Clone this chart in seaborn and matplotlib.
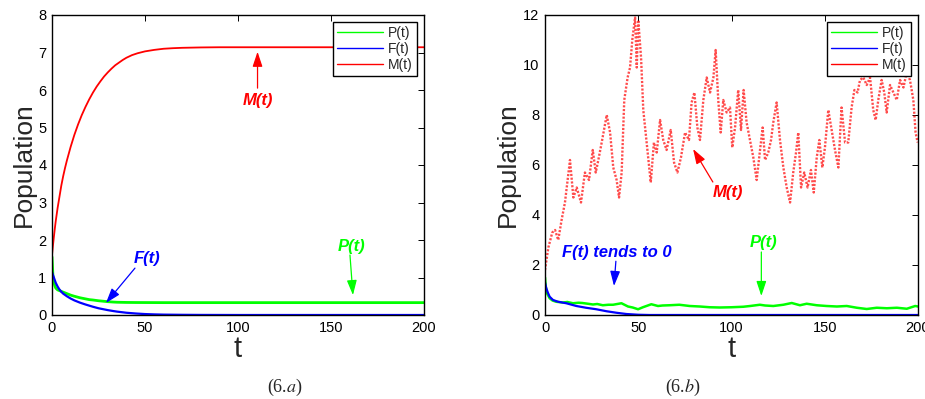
import matplotlib
matplotlib.use("Agg")
import matplotlib.pyplot as plt
import seaborn as sns
import pandas as pd

# ---------------- data: panel (6.a) deterministic ----------------
t_a = [0, 0.5, 1, 1.5, 2, 3, 4, 5, 6, 8, 10, 12, 15, 18, 20, 22, 25, 28, 30,
       33, 35, 38, 40, 45, 50, 55, 60, 70, 80, 100, 120, 150, 200]
P_a = [1.55, 1.05, 0.88, 0.78, 0.72, 0.67, 0.65, 0.63, 0.61, 0.57, 0.53, 0.50,
       0.46, 0.43, 0.41, 0.40, 0.38, 0.365, 0.355, 0.345, 0.34, 0.337, 0.335,
       0.333, 0.332, 0.331, 0.33, 0.33, 0.33, 0.33, 0.33, 0.33, 0.33]
F_a = [1.15, 1.07, 1.0, 0.93, 0.86, 0.76, 0.68, 0.62, 0.57, 0.50, 0.44, 0.39,
       0.33, 0.28, 0.25, 0.22, 0.18, 0.15, 0.13, 0.105, 0.09, 0.072, 0.06,
       0.04, 0.025, 0.016, 0.01, 0.005, 0.002, 0.0, 0.0, 0.0, 0.0]
t_am = [0, 0.5, 1, 1.5, 2, 3, 4, 5, 6, 7, 8, 9, 10, 12, 14, 16, 18, 20, 22,
        24, 26, 28, 30, 32, 34, 36, 38, 40, 43, 46, 50, 55, 60, 65, 70, 80,
        90, 100, 200]
M_a = [1.6, 1.85, 2.08, 2.3, 2.5, 2.85, 3.15, 3.45, 3.7, 3.92, 4.12, 4.3, 4.48,
       4.8, 5.08, 5.33, 5.55, 5.75, 5.93, 6.09, 6.23, 6.36, 6.47, 6.57, 6.66,
       6.73, 6.8, 6.86, 6.93, 6.98, 7.03, 7.07, 7.1, 7.115, 7.125, 7.135,
       7.14, 7.14, 7.14]

# ---------------- data: panel (6.b) stochastic ----------------
t_m = [0, 1.8, 3.9, 5.4, 7.1, 8.9, 10.7, 13.4, 15.2, 17.0, 19.3, 21.4, 23.6,
       25.6, 27.2, 28.6, 30.4, 33.1, 34.9, 36.6, 38.4, 39.7, 41.1, 42.5, 44.3,
       45.6, 46.8, 48.3, 49.2, 50.0, 51.5, 52.7, 54.5, 56.7, 58.4, 59.9, 61.7,
       63.4, 65.2, 67.4, 69.2, 71.0, 72.9, 75.1, 77.2, 78.6, 80.1, 81.7, 83.1,
       84.9, 86.7, 88.5, 90.3, 91.5, 92.9, 94.2, 95.6, 97.4, 99.2, 100.4, 101.9,
       103.6, 105.1, 106.5, 108.1, 109.9, 111.7, 113.5, 115.3, 116.7, 118.0,
       119.7, 121.2, 122.4, 124.2, 126.0, 127.8, 129.6, 131.4, 133.1, 134.6,
       135.8, 137.3, 139.0, 140.8, 142.6, 144.1, 145.7, 147.1, 148.7, 150.1,
       151.9, 153.7, 155.5, 157.3, 159.0, 160.9, 162.6, 164.4, 165.9, 167.6,
       168.9, 170.7, 172.5, 174.3, 176.0, 177.3, 178.7, 180.5, 181.9, 183.2,
       185.0, 186.8, 188.6, 190.4, 192.2, 193.9, 195.7, 197.5, 198.7, 199.8]
M_b = [1.8, 2.7, 3.3, 3.4, 3.0, 3.8, 4.5, 6.2, 4.7, 5.1, 4.5, 5.7, 5.4,
       6.6, 5.7, 6.2, 6.9, 8.0, 7.3, 5.9, 5.4, 4.7, 5.7, 8.6, 9.5,
       9.9, 11.0, 11.9, 9.9, 11.8, 10.3, 8.2, 6.9, 5.3, 6.9, 6.5, 7.8,
       7.0, 6.6, 7.4, 6.1, 5.7, 6.3, 7.3, 7.0, 8.5, 8.9, 7.5, 7.0,
       8.6, 9.5, 8.9, 9.5, 10.6, 8.6, 7.3, 8.6, 8.1, 8.3, 6.7, 7.5,
       9.0, 7.4, 9.0, 7.7, 7.0, 6.3, 5.4, 6.6, 7.5, 6.2,
       6.5, 7.0, 7.7, 8.5, 7.0, 5.9, 5.1, 4.5, 5.7, 6.5,
       7.3, 5.1, 5.7, 5.1, 5.8, 4.9, 6.3, 7.0, 5.9, 6.7,
       8.2, 7.4, 6.6, 5.9, 8.3, 6.9, 6.9, 8.3, 9.0, 8.9,
       9.4, 9.5, 9.2, 9.5, 8.2, 7.8, 8.6, 9.4, 8.9, 8.1,
       9.2, 8.9, 8.6, 9.4, 9.1, 9.7, 9.4, 8.6, 7.3, 6.9]

t_p = [0, 0.4, 1.2, 2.5, 4, 6, 9.6, 12, 15, 18, 20, 23, 25.7, 28, 31, 34,
       36.5, 41, 44.5, 47, 49.9, 52.5, 57, 60.6, 63, 66.8, 72, 77.6, 83,
       88.3, 93.7, 100, 106.3, 110, 115.2, 118, 122.4, 127.8, 132.3, 136.7,
       140.3, 145.7, 151, 156.5, 161.8, 167.2, 172.5, 177.9, 183.3, 188.7,
       194, 198.5, 200]
P_b = [1.5, 1.13, 0.85, 0.67, 0.58, 0.53, 0.50, 0.52, 0.47, 0.49, 0.48, 0.45,
       0.42, 0.44, 0.39, 0.41, 0.41, 0.47, 0.34, 0.30, 0.23, 0.31, 0.43, 0.36,
       0.38, 0.39, 0.41, 0.36, 0.34, 0.31, 0.30, 0.31, 0.33, 0.36, 0.41, 0.38,
       0.36, 0.41, 0.48, 0.39, 0.45, 0.39, 0.36, 0.34, 0.36, 0.29, 0.24, 0.29,
       0.27, 0.29, 0.25, 0.36, 0.34]

t_f = [0, 0.7, 1.5, 2.5, 4.3, 7, 11.4, 16.8, 22, 27.5, 33, 38.3, 43.6, 50,
       56, 60, 100, 150, 200]
F_b = [1.3, 1.07, 0.9, 0.73, 0.6, 0.53, 0.47, 0.36, 0.29, 0.23, 0.15, 0.09,
       0.04, 0.01, 0.0, 0.0, 0.0, 0.0, 0.0]

series_labels = ["P(t)", "F(t)", "M(t)"]
x_ticks = [0, 50, 100, 150, 200]
captions = ["(6.$a$)", "(6.$b$)"]

# ---------------- styling ----------------
sns.set_style("white")
plt.rcParams["font.family"] = ["Liberation Sans", "DejaVu Sans"]
plt.rcParams["mathtext.fontset"] = "stix"

GREEN, BLUE, RED = (0, 1, 0), (0, 0, 1), (1, 0, 0)

fig = plt.figure(figsize=(9.25, 3.99), dpi=100)
ax1 = fig.add_axes([52 / 925, 84 / 399, 372 / 925, 300 / 399])
ax2 = fig.add_axes([545 / 925, 84 / 399, 373 / 925, 300 / 399])

# panel a
dpf = pd.DataFrame({"t": t_a, "P": P_a, "F": F_a})
dma = pd.DataFrame({"t": t_am, "M": M_a})
sns.lineplot(data=dpf, x="t", y="P", ax=ax1, color=GREEN, lw=2.0, label=series_labels[0])
sns.lineplot(data=dpf, x="t", y="F", ax=ax1, color=BLUE, lw=1.6, label=series_labels[1])
sns.lineplot(data=dma, x="t", y="M", ax=ax1, color=RED, lw=1.3, label=series_labels[2])

# panel b
dp = pd.DataFrame({"t": t_p, "P": P_b})
df_ = pd.DataFrame({"t": t_f, "F": F_b})
dm = pd.DataFrame({"t": t_m, "M": M_b})
sns.lineplot(data=dp, x="t", y="P", ax=ax2, color=GREEN, lw=1.8, label=series_labels[0])
sns.lineplot(data=df_, x="t", y="F", ax=ax2, color=BLUE, lw=1.6, label=series_labels[1])
sns.lineplot(data=dm, x="t", y="M", ax=ax2, color=RED, lw=1.7, alpha=0.7,
             linestyle=(0, (0.9, 0.7)), label=series_labels[2])

for ax, ymax, yt, cap, cx in [(ax1, 8, range(0, 9), captions[0], 285 / 925),
                              (ax2, 12, range(0, 13, 2), captions[1], 683 / 925)]:
    ax.set_xlim(0, 200)
    ax.set_ylim(0, ymax)
    ax.set_xticks(x_ticks)
    ax.set_yticks(list(yt))
    ax.tick_params(direction="in", length=4, width=0.7, top=True, right=True,
                   labelsize=10.5, colors="black", pad=4)
    for s in ax.spines.values():
        s.set_color("black")
        s.set_linewidth(1.0)
    ax.set_xlabel("t", fontsize=21, labelpad=0)
    ax.set_ylabel("Population", fontsize=19, labelpad=2)
    leg = ax.legend(loc="upper right", fontsize=10, frameon=True, fancybox=False,
                    edgecolor="black", framealpha=1, handlelength=3.3,
                    borderaxespad=0.5, borderpad=0.3, labelspacing=0.15,
                    handletextpad=0.4)
    leg.get_frame().set_linewidth(1.0)
    for ln in leg.get_lines():
        ln.set_linewidth(1.0)
        ln.set_linestyle("-")
        ln.set_alpha(1)
    fig.text(cx, 12 / 399, cap, ha="center", va="center", fontsize=13,
             family=["Liberation Serif", "DejaVu Serif"])

afont = dict(fontsize=12, fontweight="bold", fontstyle="italic", ha="center", va="center")

def arrow(ax, tail, head, color, lw=0.9):
    ax.annotate("", xy=head, xytext=tail,
                arrowprops=dict(arrowstyle="-|>,head_length=0.9,head_width=0.3",
                                color=color, lw=lw, shrinkA=0, shrinkB=0))

# panel a annotations
ax1.text(110.5, 5.73, "M(t)", color=RED, **afont)
arrow(ax1, (110.5, 6.05), (110.5, 7.02), RED)
ax1.text(51, 1.5, "F(t)", color=BLUE, **afont)
arrow(ax1, (44.6, 1.25), (29, 0.32), BLUE)
ax1.text(161, 1.84, "P(t)", color=GREEN, **afont)
arrow(ax1, (160.2, 1.6), (161.8, 0.53), GREEN)

# panel b annotations
ax2.text(98, 4.88, "M(t)", color=RED, **afont)
arrow(ax2, (90, 5.32), (79.4, 6.64), RED)
ax2.text(38.5, 2.52, "F(t) tends to 0", color=BLUE, **afont)
arrow(ax2, (38, 2.15), (37, 1.16), BLUE)
ax2.text(117, 2.88, "P(t)", color=GREEN, **afont)
arrow(ax2, (116, 2.52), (116, 0.76), GREEN)

fig.savefig("out.png", dpi=100)
